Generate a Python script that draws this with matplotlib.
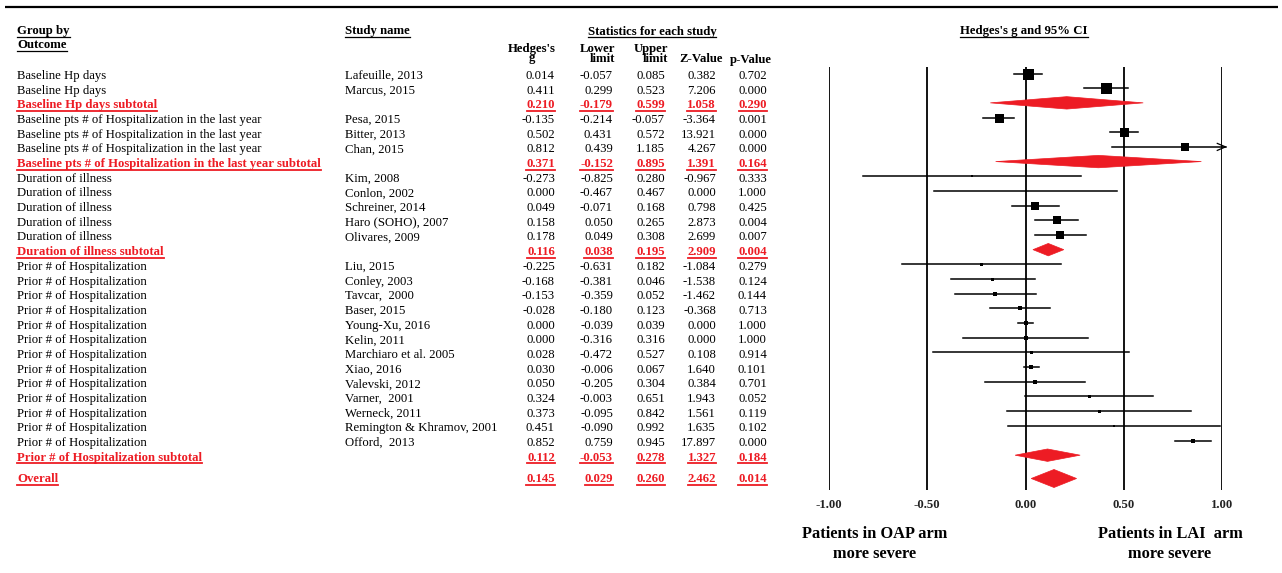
import matplotlib
matplotlib.use("Agg")
import matplotlib.pyplot as plt
from matplotlib.lines import Line2D
from matplotlib.patches import Polygon
from matplotlib.transforms import IdentityTransform

# ---------------------------------------------------------------- data
group_names = [
    "Baseline Hp days",
    "Baseline pts # of Hospitalization in the last year",
    "Duration of illness",
    "Prior # of Hospitalization",
]
study_group = [0, 0, 1, 1, 1, 2, 2, 2, 2, 2] + [3] * 13
study_names = [
    "Lafeuille, 2013", "Marcus, 2015",
    "Pesa, 2015", "Bitter, 2013", "Chan, 2015",
    "Kim, 2008", "Conlon, 2002", "Schreiner, 2014", "Haro (SOHO), 2007", "Olivares, 2009",
    "Liu, 2015", "Conley, 2003", "Tavcar,  2000", "Baser, 2015", "Young-Xu, 2016",
    "Kelin, 2011", "Marchiaro et al. 2005", "Xiao, 2016", "Valevski, 2012",
    "Varner,  2001", "Werneck, 2011", "Remington & Khramov, 2001", "Offord,  2013",
]
hedges_g = [0.014, 0.411, -0.135, 0.502, 0.812, -0.273, 0.000, 0.049, 0.158, 0.178,
            -0.225, -0.168, -0.153, -0.028, 0.000, 0.000, 0.028, 0.030, 0.050, 0.324,
            0.373, 0.451, 0.852]
lower_limit = [-0.057, 0.299, -0.214, 0.431, 0.439, -0.825, -0.467, -0.071, 0.050, 0.049,
               -0.631, -0.381, -0.359, -0.180, -0.039, -0.316, -0.472, -0.006, -0.205, -0.003,
               -0.095, -0.090, 0.759]
upper_limit = [0.085, 0.523, -0.057, 0.572, 1.185, 0.280, 0.467, 0.168, 0.265, 0.308,
               0.182, 0.046, 0.052, 0.123, 0.039, 0.316, 0.527, 0.067, 0.304, 0.651,
               0.842, 0.992, 0.945]
z_value = [0.382, 7.206, -3.364, 13.921, 4.267, -0.967, 0.000, 0.798, 2.873, 2.699,
           -1.084, -1.538, -1.462, -0.368, 0.000, 0.000, 0.108, 1.640, 0.384, 1.943,
           1.561, 1.635, 17.897]
p_value = [0.702, 0.000, 0.001, 0.000, 0.000, 0.333, 1.000, 0.425, 0.004, 0.007,
           0.279, 0.124, 0.144, 0.713, 1.000, 1.000, 0.914, 0.101, 0.701, 0.052,
           0.119, 0.102, 0.000]

subtotal_g = [0.210, 0.371, 0.116, 0.112]
subtotal_lower = [-0.179, -0.152, 0.038, -0.053]
subtotal_upper = [0.599, 0.895, 0.195, 0.278]
subtotal_z = [1.058, 1.391, 2.909, 1.327]
subtotal_p = [0.290, 0.164, 0.004, 0.184]

overall = {"g": 0.145, "lower": 0.029, "upper": 0.260, "z": 2.462, "p": 0.014}

axis_ticks = [-1.0, -0.5, 0.0, 0.5, 1.0]

# box side (px) for each study marker, scaled by study weight
box_px = [11, 11, 9, 9, 8, 2, 2, 8, 8, 8,
          3, 3, 4, 4, 5, 4, 3, 5, 4, 3, 3, 2, 5]

# ---------------------------------------------------------------- layout
W, H, DPI = 1282, 573, 100
RED = "#ED1C24"
FS = 9.2
plt.rcParams["font.family"] = ["Liberation Serif", "DejaVu Serif"]

fig = plt.figure(figsize=(W / DPI, H / DPI), dpi=DPI)
ax_t = fig.add_axes([0, 0, 1, 1])
ax_t.set_xlim(0, W)
ax_t.set_ylim(H, 0)
ax_t.axis("off")

X0_PX, X1_PX = 829, 1222
ax_f = fig.add_axes([X0_PX / W, 0, (X1_PX - X0_PX) / W, 1])
ax_f.set_xlim(-1, 1)
ax_f.set_ylim(H, 0)
ax_f.axis("off")

ROW0, STEP = 73.5, 14.68
TXT_OFF = 5.5
OVERALL_Y = 478.5

COL_GROUP, COL_STUDY = 17, 345
COL_RIGHT = [555, 613, 665, 716, 767]

underlined = []


def put(x, y, s, ha="left", color="black", bold=False, ul=False, size=FS, va="baseline"):
    t = ax_t.text(x, y, s, ha=ha, va=va, color=color, fontsize=size,
                  fontweight="bold" if bold else "normal")
    if ul:
        underlined.append(t)
    return t


# top rule
ax_t.plot([5, 1278], [7, 7], color="black", lw=1.6, solid_capstyle="butt")

# headers
put(COL_GROUP, 34, "Group by", bold=True, ul=True)
put(COL_GROUP, 48, "Outcome", bold=True, ul=True)
put(COL_STUDY, 34, "Study name", bold=True, ul=True)
put(652, 34.5, "Statistics for each study", ha="center", bold=True, ul=True)
put(532, 52, "Hedges's", ha="center", bold=True)
put(532, 60.5, "g", ha="center", bold=True)
put(615, 52, "Lower", ha="right", bold=True)
put(615, 62.5, "limit", ha="right", bold=True)
put(668, 52, "Upper", ha="right", bold=True)
put(668, 62.5, "limit", ha="right", bold=True)
put(723, 62.5, "Z-Value", ha="right", bold=True)
put(772, 62.5, "p-Value", ha="right", bold=True)
put(1024, 34, "Hedges's g and 95% CI", ha="center", bold=True, ul=True)


def table_row(y, label, study, vals, summary=False):
    color = RED if summary else "black"
    put(COL_GROUP, y + TXT_OFF, label, color=color, bold=summary, ul=summary)
    if study:
        put(COL_STUDY, y + TXT_OFF, study)
    for xr, v in zip(COL_RIGHT, vals):
        put(xr, y + TXT_OFF, f"{v:.3f}", ha="right", color=color, bold=summary, ul=summary)


def diamond(y, g, lo, hi, half_h):
    ax_f.add_patch(Polygon([(lo, y), (g, y - half_h), (hi, y), (g, y + half_h)],
                           closed=True, facecolor=RED, edgecolor=RED, lw=0.5,
                           clip_on=False, zorder=3))


# reference lines
ax_f.vlines(axis_ticks, 67, 490, color="black", lw=1.3, zorder=1)

row = 0
for gi, gname in enumerate(group_names):
    for si in [i for i, s in enumerate(study_group) if s == gi]:
        y = ROW0 + row * STEP
        table_row(y, gname, study_names[si],
                  [hedges_g[si], lower_limit[si], upper_limit[si], z_value[si], p_value[si]])
        hi = min(upper_limit[si], 1.0)
        ax_f.plot([lower_limit[si], hi], [y, y], color="black", lw=1.1, zorder=2,
                  clip_on=False)
        if upper_limit[si] > 1.0:
            ax_f.plot([1.0, 1.018], [y, y], color="black", lw=1.1, clip_on=False)
            ax_f.plot([0.976, 1.018, 0.976], [y - 3.5, y, y + 3.5], color="black",
                      lw=0.9, clip_on=False)
        ax_f.plot(hedges_g[si], y, marker="s", ms=box_px[si] * 0.72, color="black",
                  mec="black", mew=0, zorder=4, clip_on=False)
        row += 1
    y = ROW0 + row * STEP
    table_row(y, f"{gname} subtotal", "",
              [subtotal_g[gi], subtotal_lower[gi], subtotal_upper[gi],
               subtotal_z[gi], subtotal_p[gi]], summary=True)
    diamond(y, subtotal_g[gi], subtotal_lower[gi], subtotal_upper[gi], 6.2)
    row += 1

table_row(OVERALL_Y - 2, "Overall", "",
          [overall["g"], overall["lower"], overall["upper"], overall["z"], overall["p"]],
          summary=True)
diamond(OVERALL_Y, overall["g"], overall["lower"], overall["upper"], 9)

# axis tick labels
for t in axis_ticks:
    ax_f.text(t, 508.5, f"{t:.2f}", ha="center", va="baseline", fontsize=FS,
              fontweight="bold", color="#222222")

put(875, 538, "Patients in OAP arm", ha="center", bold=True, size=11.8)
put(875, 557.5, "more severe", ha="center", bold=True, size=11.8)
put(1170, 538, "Patients in LAI  arm", ha="center", bold=True, size=11.8)
put(1170, 557.5, "more severe", ha="center", bold=True, size=11.8)

# underline the flagged labels
fig.canvas.draw()
renderer = fig.canvas.get_renderer()
for t in underlined:
    bb = t.get_window_extent(renderer)
    yb = bb.y0 + 0.5
    lw = 1.3 if t.get_color() == RED else 0.9
    fig.add_artist(Line2D([bb.x0, bb.x1], [yb, yb], transform=IdentityTransform(),
                          color=t.get_color(), lw=lw))

fig.savefig("out.png", dpi=DPI, facecolor="white")
